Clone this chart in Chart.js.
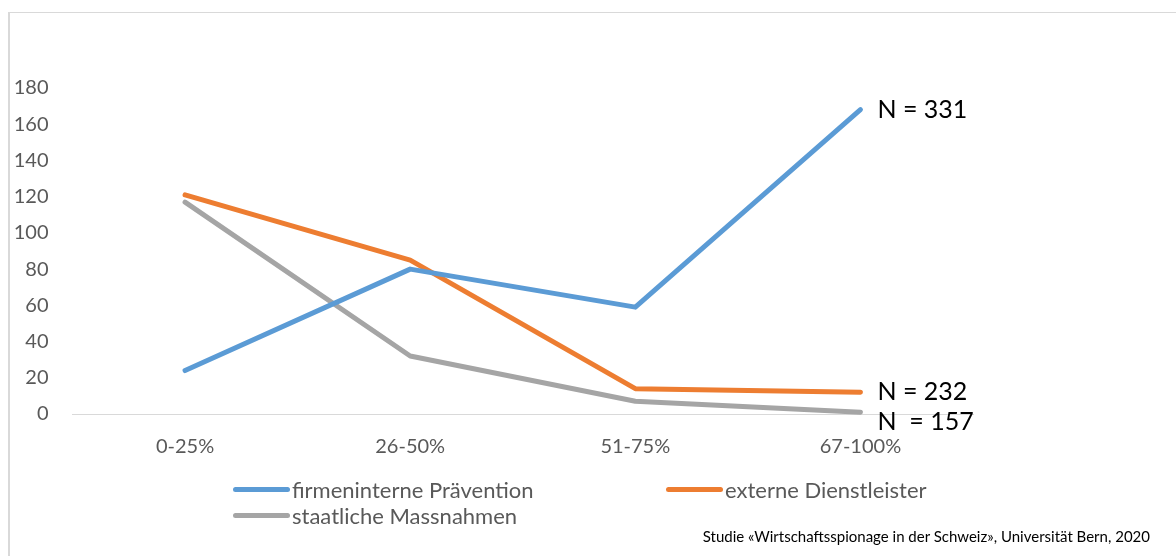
<!DOCTYPE html>
<html>
<head>
<meta charset="utf-8">
<script src="https://cdn.jsdelivr.net/npm/chart.js@4"></script>
<style>
  html, body { margin: 0; padding: 0; background: #fff; }
  body { width: 1176px; height: 556px; overflow: hidden; position: relative; font-family: Lato, 'Open Sans', sans-serif; }
  #frame { position: absolute; left: 8px; top: 12px; width: 2000px; height: 2000px; border-top: 1px solid #d9d9d9; border-left: 2px solid #d9d9d9; }
  #wrap { position: absolute; left: 0; top: 0; width: 1176px; height: 556px; }
  #legend { position: absolute; left: 233px; top: 476px; display: grid; grid-template-columns: 433px 433px; grid-auto-rows: 26px; }
  .item { display: flex; align-items: center; font-size: 22px; color: #595959; }
  .swatch { width: 57px; height: 5px; border-radius: 3px; margin-right: 2px; }
  #source { position: absolute; right: 26px; top: 527px; font-size: 15px; color: #000; }
</style>
</head>
<body>
<div id="frame"></div>
<div id="wrap"><canvas id="chart" width="1176" height="556"></canvas></div>
<div id="legend"></div>
<div id="source">Studie «Wirtschaftsspionage in der Schweiz», Universität Bern, 2020</div>
<script>
const categories = ['0-25%', '26-50%', '51-75%', '67-100%'];
const firmeninterne = [24, 80, 59, 168];
const externe = [121, 85, 14, 12];
const staatliche = [117, 32, 7, 1];
const seriesLabels = ['firmeninterne Prävention', 'externe Dienstleister', 'staatliche Massnahmen'];
const nLabels = ['N = 331', 'N = 232', 'N  = 157'];
const colors = ['#5b9bd5', '#ed7d31', '#a5a5a5'];

const endLabels = {
  id: 'endLabels',
  afterDatasetsDraw(chart, args, opts) {
    const { ctx } = chart;
    ctx.save();
    ctx.font = '25px Lato, sans-serif';
    ctx.fillStyle = '#000';
    ctx.textBaseline = 'middle';
    chart.data.datasets.forEach((ds, i) => {
      const meta = chart.getDatasetMeta(i);
      const pt = meta.data[meta.data.length - 1];
      ctx.fillText(nLabels[i], pt.x + opts.dx, pt.y + opts.dy[i]);
    });
    ctx.restore();
  },
};

const makeDataset = (label, data, color) => ({
  label,
  data,
  borderColor: color,
  backgroundColor: color,
  borderWidth: 5,
  borderCapStyle: 'round',
  borderJoinStyle: 'round',
  pointRadius: 0,
  tension: 0,
  fill: false,
  clip: false,
});

const chart = new Chart(document.getElementById('chart'), {
  type: 'line',
  data: {
    labels: categories,
    datasets: [
      makeDataset(seriesLabels[0], firmeninterne, colors[0]),
      makeDataset(seriesLabels[1], externe, colors[1]),
      makeDataset(seriesLabels[2], staatliche, colors[2]),
    ],
  },
  options: {
    responsive: false,
    animation: false,
    layout: { padding: { top: 88, right: 203, left: 0, bottom: 0 } },
    plugins: {
      legend: { display: false },
      tooltip: { enabled: false },
      endLabels: { dx: 17, dy: [0, 0, 10] },
    },
    scales: {
      x: {
        offset: true,
        grid: { display: false, drawTicks: false },
        border: { color: '#d9d9d9', width: 1 },
        ticks: { color: '#595959', font: { family: 'Lato', size: 20 }, padding: 21 },
        afterFit: (scale) => { scale.height = 142; },
      },
      y: {
        min: 0,
        max: 180,
        grid: { display: false, drawTicks: false },
        border: { display: false },
        ticks: { stepSize: 20, color: '#595959', font: { family: 'Lato', size: 20 }, padding: 24 },
        afterFit: (scale) => { scale.width = 72.5; },
      },
    },
  },
  plugins: [endLabels],
});

const legend = document.getElementById('legend');
chart.data.datasets.forEach((ds) => {
  const item = document.createElement('div');
  item.className = 'item';
  const sw = document.createElement('span');
  sw.className = 'swatch';
  sw.style.background = ds.borderColor;
  item.appendChild(sw);
  item.appendChild(document.createTextNode(ds.label));
  legend.appendChild(item);
});
</script>
</body>
</html>
